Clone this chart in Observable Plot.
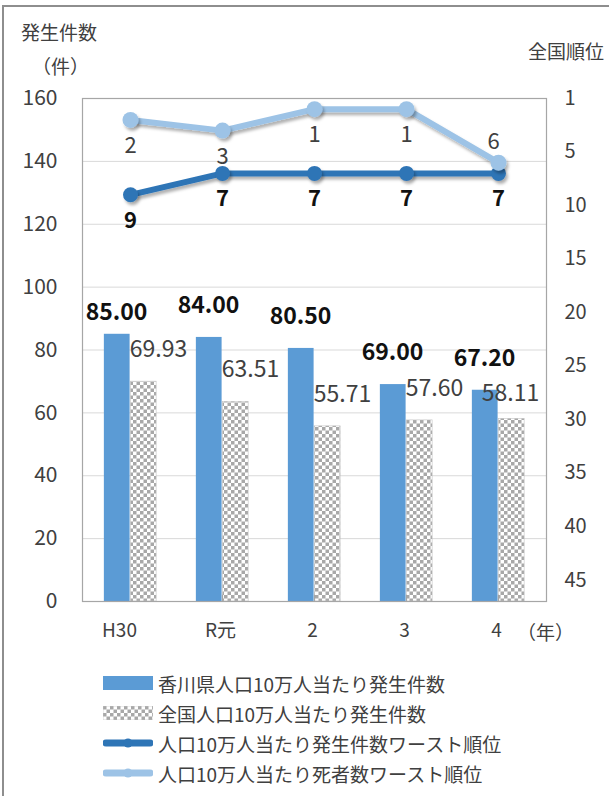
<!DOCTYPE html>
<html><head><meta charset="utf-8">
<script src="https://cdn.jsdelivr.net/npm/d3@7"></script>
<script src="https://cdn.jsdelivr.net/npm/@observablehq/plot@0.6"></script>
<style>
body{margin:0;background:#fff;font-family:"Noto Sans CJK JP",sans-serif;}
#wrap{position:relative;width:609px;height:796px;overflow:hidden;background:#fff;}
#frame{position:absolute;left:2px;top:5px;width:800px;height:900px;border-left:2px solid #8e8e8e;border-top:2px solid #8e8e8e;}
#chart{position:absolute;left:0;top:0;}
.t{position:absolute;font-size:19px;color:#404040;white-space:nowrap;line-height:1;}
#legend{position:absolute;left:103px;top:668px;}
.row{display:flex;align-items:center;height:30px;font-size:19px;color:#404040;white-space:nowrap;}
.row svg{margin-right:5px;flex:none;}
</style></head><body>
<div id="wrap">
<div id="frame"></div>
<div id="chart"></div>
<div class="t" style="left:21px;top:22px">発生件数</div>
<div class="t" style="left:32px;top:56px">（件）</div>
<div class="t" style="left:528px;top:41px">全国順位</div>
<div class="t" style="left:517px;top:622px">（年）</div>
<div id="legend"></div>
</div>
<script>
const years = ["H30","R元","2","3","4"];
const kagawa = [85.00, 84.00, 80.50, 69.00, 67.20];
const national = [69.93, 63.51, 55.71, 57.60, 58.11];
const rankCases = [9, 7, 7, 7, 7];
const rankDeaths = [2, 3, 1, 1, 6];
const leftTicks = [0, 20, 40, 60, 80, 100, 120, 140, 160];
const gridTicks = [20, 40, 60, 80, 100, 120, 140];
const rightTickRanks = [0, 5, 10, 15, 20, 25, 30, 35, 40, 45];
const rightTickLabels = ["1", "5", "10", "15", "20", "25", "30", "35", "40", "45"];
const seriesNames = ["香川県人口10万人当たり発生件数", "全国人口10万人当たり発生件数", "人口10万人当たり発生件数ワースト順位", "人口10万人当たり死者数ワースト順位"];
const rankMax = 47;
const yMax = 160;

const C = {bar: "#5b9bd5", dark: "#2e75b6", light: "#9dc3e6", text: "#404040", axis: "#a6a6a6", grid: "#d9d9d9"};

const W = 609, H = 660, mL = 82, mR = 63, mT = 98, mB = 59;
const bw = (W - mL - mR) / years.length;
const half = bw / 2;
const barW = bw * 0.286;

const rows = years.map((y, i) => ({year: y, i, kagawa: kagawa[i], national: national[i], rc: rankCases[i], rd: rankDeaths[i]}));
const rankToY = r => yMax * (1 - r / rankMax);
const rightLabelMap = new Map(rightTickRanks.map((r, i) => [rankToY(r), rightTickLabels[i]]));

const plot = Plot.plot({
  width: W, height: H,
  marginLeft: mL, marginRight: mR, marginTop: mT, marginBottom: mB,
  style: {fontFamily: '"Noto Sans CJK JP", sans-serif', color: C.text, background: "transparent"},
  x: {type: "band", domain: years, padding: 0, axis: null},
  y: {domain: [0, yMax], axis: null},
  marks: [
    Plot.ruleY(gridTicks, {stroke: C.grid, strokeWidth: 1}),
    Plot.barY(rows, {x: "year", y: "kagawa", fill: C.bar, insetLeft: half - barW, insetRight: half}),
    Plot.barY(rows, {x: "year", y: "national", fill: "url(#checker)", stroke: "#c4c4c4", strokeWidth: 0.6, insetLeft: half, insetRight: half - barW}),
    Plot.frame({stroke: C.axis, strokeWidth: 1.2}),
    Plot.ruleX(years.slice(1), {x: d => d, y1: () => 0, y2: () => 2, stroke: C.axis, strokeWidth: 1.2}),
    Plot.axisY(leftTicks, {anchor: "left", tickSize: 0, tickPadding: 25, fontSize: 21, label: null}),
    Plot.axisY(rightTickRanks.map(rankToY), {anchor: "right", tickSize: 0, tickPadding: 18, fontSize: 20, label: null, tickFormat: v => rightLabelMap.get(v)}),
    Plot.axisX(["H30"], {anchor: "bottom", tickSize: 0, tickPadding: 22, fontSize: 19, label: null, dx: -11}),
    Plot.axisX(years.slice(1), {anchor: "bottom", tickSize: 0, tickPadding: 22, fontSize: 19, label: null, dx: -2}),
    // lines
    Plot.lineY(rows, {x: "year", y: d => rankToY(d.rc), stroke: C.dark, strokeWidth: 6}),
    Plot.dot(rows, {x: "year", y: d => rankToY(d.rc), r: 7.5, fill: C.dark}),
    Plot.lineY(rows, {x: "year", y: d => rankToY(d.rd), stroke: C.light, strokeWidth: 6}),
    Plot.dot(rows, {x: "year", y: d => rankToY(d.rd), r: 8, fill: C.light}),
    // bar labels
    Plot.text(rows.filter(d => d.i === 0), {x: "year", y: "kagawa", text: d => d.kagawa.toFixed(2), dx: -14, dy: -22, fontSize: 23, fontWeight: "bold", fill: "#111"}),
    Plot.text(rows.filter(d => d.i > 0), {x: "year", y: "kagawa", text: d => d.kagawa.toFixed(2), dx: -14, dy: -32, fontSize: 23, fontWeight: "bold", fill: "#111"}),
    Plot.text(rows.filter(d => d.i < 4), {x: "year", y: "national", text: d => d.national.toFixed(2), dx: 28, dy: -32, fontSize: 23, fill: C.text}),
    Plot.text(rows.filter(d => d.i === 4), {x: "year", y: "national", text: d => d.national.toFixed(2), dx: 12, dy: -25, fontSize: 23, fill: C.text}),
    // rank labels
    Plot.text(rows, {x: "year", y: d => rankToY(d.rc), text: d => String(d.rc), dy: 26, fontSize: 22, fontWeight: "bold", fill: "#111"}),
    Plot.text(rows.filter(d => d.i < 4), {x: "year", y: d => rankToY(d.rd), text: d => String(d.rd), dy: 26, fontSize: 22, fill: C.text}),
    Plot.text(rows.filter(d => d.i === 4), {x: "year", y: d => rankToY(d.rd), text: d => String(d.rd), dx: -5, dy: -21, fontSize: 22, fill: C.text})
  ]
});

// checker pattern and shadow filter
const svg = d3.select(plot);
const defs = svg.insert("defs", ":first-child");
const pat = defs.append("pattern").attr("id", "checker").attr("patternUnits", "userSpaceOnUse").attr("width", 7).attr("height", 7);
pat.append("rect").attr("width", 7).attr("height", 7).attr("fill", "#ffffff");
pat.append("rect").attr("width", 3.5).attr("height", 3.5).attr("fill", "#a8a8a8");
pat.append("rect").attr("x", 3.5).attr("y", 3.5).attr("width", 3.5).attr("height", 3.5).attr("fill", "#a8a8a8");
const flt = defs.append("filter").attr("id", "shadow").attr("filterUnits", "userSpaceOnUse")
  .attr("x", 0).attr("y", 0).attr("width", W).attr("height", H);
flt.append("feDropShadow").attr("dx", 2).attr("dy", 3).attr("stdDeviation", 1.8).attr("flood-color", "#000").attr("flood-opacity", 0.3);
svg.selectAll('g[aria-label="line"], g[aria-label="dot"]').attr("filter", "url(#shadow)");

document.getElementById("chart").appendChild(plot);

// legend
const legend = d3.select("#legend");
const swatches = [
  s => s.append("rect").attr("x", 0).attr("y", 0).attr("width", 50).attr("height", 14).attr("fill", C.bar),
  s => s.append("rect").attr("x", 0).attr("y", 0).attr("width", 50).attr("height", 14).attr("fill", "url(#checker)").attr("stroke", "#c4c4c4").attr("stroke-width", 0.6),
  s => { s.append("line").attr("x1", 3).attr("x2", 47).attr("y1", 7).attr("y2", 7).attr("stroke", C.dark).attr("stroke-width", 7).attr("stroke-linecap", "round"); s.append("circle").attr("cx", 25).attr("cy", 7).attr("r", 4.5).attr("fill", C.dark); },
  s => { s.append("line").attr("x1", 3).attr("x2", 47).attr("y1", 7).attr("y2", 7).attr("stroke", C.light).attr("stroke-width", 7).attr("stroke-linecap", "round"); s.append("circle").attr("cx", 25).attr("cy", 7).attr("r", 4.5).attr("fill", C.light); }
];
seriesNames.forEach((name, i) => {
  const row = legend.append("div").attr("class", "row");
  const s = row.append("svg").attr("width", 50).attr("height", 14);
  swatches[i](s);
  row.append("span").text(name);
});
</script>
</body></html>
